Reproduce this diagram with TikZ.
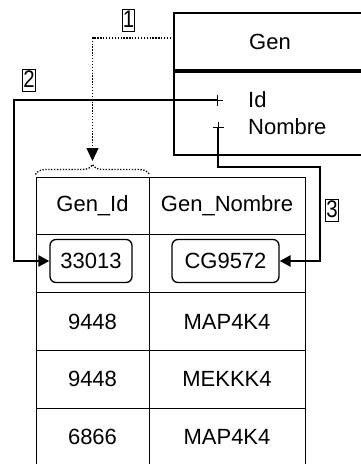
\documentclass[tikz,border=0pt]{standalone}
\usepackage{fontspec}
\setmainfont{Liberation Sans}
\usetikzlibrary{positioning,calc,arrows.meta,decorations.pathreplacing}
\newcommand{\cellfont}{\fontsize{22pt}{26pt}\selectfont}
\newcommand{\tagfont}{\fontsize{24pt}{28pt}\selectfont}
\newcommand{\tagnum}[1]{\scalebox{0.85}[1]{#1}}
\newcommand{\generow}[4]{%
  \node[cell,minimum width=113pt] (#1id) at (92.5,#4) {#2};
  \node[cell,minimum width=156pt] (#1nom) at (227,#4) {#3};
}
\newcommand{\plusmark}[1]{%
  \draw[line width=1pt] ($(#1)+(-5.5,0)$) -- ($(#1)+(5.5,0)$);
  \draw[line width=1pt] ($(#1)+(0,-5.5)$) -- ($(#1)+(0,5.5)$);
}

\begin{document}
\begin{tikzpicture}[x=1pt,y=-1pt,
  every node/.style={font=\cellfont},
  cell/.style={draw,line width=1pt,minimum height=57.8pt,inner sep=0pt},
  classbox/.style={draw,line width=2pt,minimum width=192pt,inner sep=0pt},
  valbox/.style={draw,line width=1.3pt,rounded corners=6pt,minimum height=43pt,inner sep=0pt},
  tag/.style={draw,line width=1pt,font=\tagfont,inner xsep=0.6pt,inner ysep=0pt,text height=18.5pt,text depth=3.5pt},
  link/.style={line width=2.5pt,-{Triangle[length=11pt,width=11pt]}},
  reflink/.style={line width=1.3pt,dash pattern=on 1.3pt off 1.6pt,-{Triangle[length=13pt,width=12pt]}}]
\useasboundingbox (0,0) rectangle (361,464);
\clip (0,0) rectangle (361,464);

% class Gen
\node[classbox,minimum height=57pt] (genhead) at (270,41.5) {Gen};
\node[classbox,minimum height=83pt,anchor=north] (genbody) at (genhead.south) {};
\node[anchor=west,inner sep=0pt] (idattr) at (248,100) {Id};
\node[anchor=west,inner sep=0pt] (nomattr) at (248,127) {Nombre};
\coordinate (idplus) at (217,100);
\coordinate (nomplus) at (218,127);
\plusmark{idplus}
\plusmark{nomplus}

% table
\generow{hd}{Gen\_Id}{Gen\_Nombre}{205.9}
\generow{ra}{}{}{263.7}
\generow{rb}{9448}{MAP4K4}{321.5}
\generow{rc}{9448}{MEKKK4}{379.3}
\generow{rd}{6866}{MAP4K4}{437.1}
\node[valbox,minimum width=82pt] (v33013) at (91,261) {33013};
\node[valbox,minimum width=107pt] (vcg) at (225.5,261) {CG9572};

% connectors
\coordinate (reftop) at (174,38);
\coordinate (bracetip) at (92.5,161);
\draw[line width=1.3pt,dash pattern=on 1.3pt off 1.6pt,decorate,
  decoration={brace,amplitude=10pt,raise=2pt}] (hdid.north west) -- (hdid.north east);
\draw[reflink] (reftop) -| (bracetip);
\coordinate (bend2) at (14,100);
\draw[link] (idplus) -- (bend2) |- (v33013);
\coordinate (bend3) at (320,167);
\draw[link] (nomplus) |- (bend3) |- (vcg);

% tags
\node[tag] (tag1) at (128.5,20) {\tagnum{1}};
\node[tag] (tag2) at (29,80) {\tagnum{2}};
\node[tag] (tag3) at (332,210) {\tagnum{3}};
\end{tikzpicture}
\end{document}
